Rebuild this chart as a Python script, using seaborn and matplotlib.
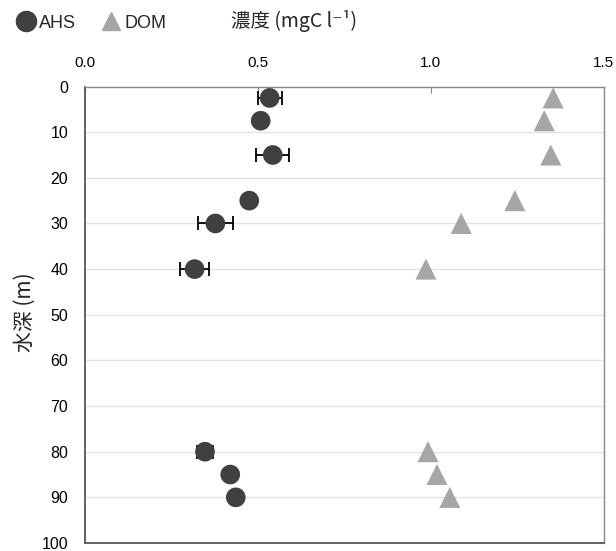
import numpy as np
import pandas as pd
import matplotlib
matplotlib.use("Agg")
import matplotlib.pyplot as plt
import seaborn as sns
from matplotlib.lines import Line2D

# depth (m) and concentrations (mgC l-1)
depth = [2.5, 7.5, 15, 25, 30, 40, 80, 85, 90]
ahs = [0.534, 0.508, 0.543, 0.475, 0.377, 0.317, 0.347, 0.420, 0.436]
ahs_err = [0.035, 0.0, 0.048, 0.0, 0.050, 0.042, 0.024, 0.0, 0.0]
dom = [1.354, 1.328, 1.347, 1.243, 1.088, 0.986, 0.992, 1.018, 1.055]

AHS_COLOR = "#404040"
DOM_COLOR = "#a6a6a6"

sns.set_style("white")
plt.rcParams['font.family'] = ['Liberation Sans', 'Noto Sans CJK JP', 'DejaVu Sans']

df = pd.DataFrame({"depth": depth, "AHS": ahs, "DOM": dom, "err": ahs_err})

fig = plt.figure(figsize=(6.16, 5.51), dpi=100)
ax = fig.add_axes([0.138, 0.0145, 0.842, 0.8285])

for y in range(10, 100, 10):
    ax.axhline(y, color="#e3e3e3", lw=1, zorder=0)

err_df = df[df["err"] > 0]
ax.errorbar(err_df["AHS"], err_df["depth"], xerr=err_df["err"], fmt="none",
            ecolor="black", elinewidth=1.3, capsize=5, capthick=1.3, zorder=2)
sns.scatterplot(data=df, x="AHS", y="depth", ax=ax, marker="o", s=200,
                color=AHS_COLOR, edgecolor="none", zorder=3)
sns.scatterplot(data=df, x="DOM", y="depth", ax=ax, marker="^", s=230,
                color=DOM_COLOR, edgecolor="none", zorder=3)

ax.set_xlim(0, 1.5)
ax.set_ylim(100, 0)
ax.set_xticks([0.0, 0.5, 1.0, 1.5])
ax.set_xticklabels(["0.0", "0.5", "1.0", "1.5"])
ax.set_yticks(range(0, 101, 10))
ax.xaxis.tick_top()
ax.tick_params(axis="x", direction="in", length=4, color="#888888",
               labelsize=11, pad=12, labelcolor="black")
ax.tick_params(axis="y", direction="in", length=5, color="#777777",
               labelsize=11.5, pad=12, labelcolor="black")
ax.set_xlabel("")
ax.set_ylabel("")
for side in ["left", "bottom"]:
    ax.spines[side].set_color("#555555")
    ax.spines[side].set_linewidth(1.3)
for side in ["top", "right"]:
    ax.spines[side].set_color("#888888")
    ax.spines[side].set_linewidth(1.0)

fig.text(0.478, 0.962, "濃度 (mgC l⁻¹)", ha="center", va="center", fontsize=14,
         family=['Noto Sans CJK JP', 'DejaVu Sans'])
fig.text(0.04, 0.434, "水深 (m)", ha="center", va="center", fontsize=15,
         rotation=90, family=['Noto Sans CJK JP', 'DejaVu Sans'])

handles = [
    Line2D([], [], marker="o", color=AHS_COLOR, ls="none", markersize=14.5),
    Line2D([], [], marker="^", color=DOM_COLOR, ls="none", markersize=13),
]
fig.legend(handles, ["AHS", "DOM"], loc="center left", bbox_to_anchor=(-0.002, 0.958),
           ncol=2, frameon=False, fontsize=13, handletextpad=0.15,
           columnspacing=1.3, handlelength=1.2)

fig.savefig("out.png", dpi=100)
